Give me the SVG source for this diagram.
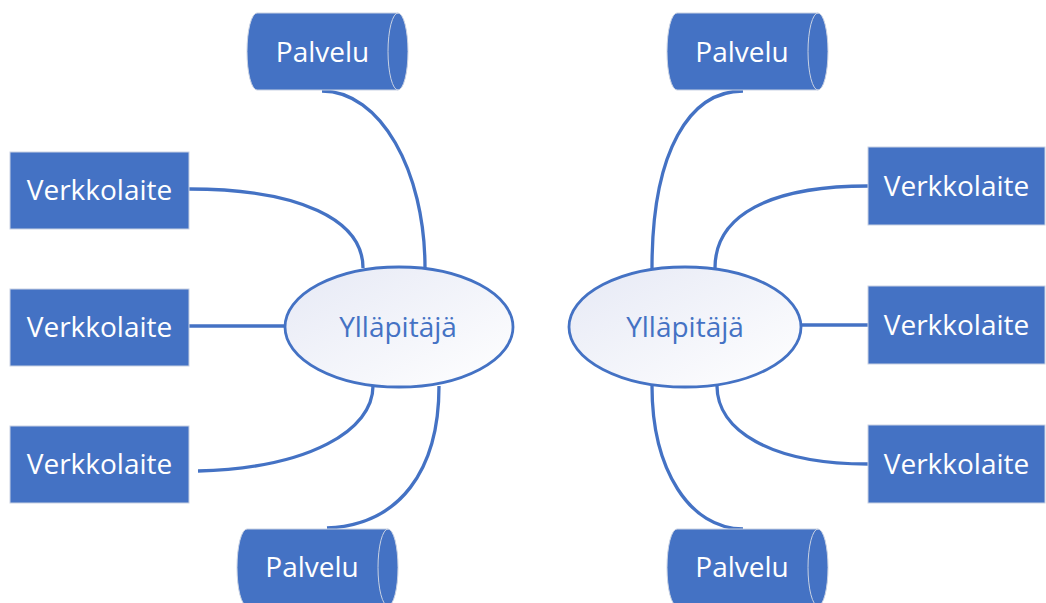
<svg xmlns="http://www.w3.org/2000/svg" width="1046" height="603" viewBox="0 0 1046 603">
<style>
.box{fill:#4472C4;stroke:#c9d2e3;stroke-width:1}
.cyl{fill:#4472C4;stroke:#c9d2e3;stroke-width:1}
.cap{fill:none;stroke:#c9d2e3;stroke-width:1}
.ell{fill:url(#g);stroke:#4472C4;stroke-width:2.8}
.lbl{font-family:"Open Sans","Liberation Sans",sans-serif;font-size:28px;fill:#ffffff;text-anchor:middle}
.elbl{font-family:"Open Sans","Liberation Sans",sans-serif;font-size:28px;fill:#4472C4;text-anchor:middle}
.conn path{fill:none;stroke:#4472C4;stroke-width:3.3}
</style>
<defs>
<linearGradient id="g" x1="0" y1="0" x2="1" y2="1">
<stop offset="0" stop-color="#e6e9f5"/>
<stop offset="1" stop-color="#ffffff"/>
</linearGradient>
</defs>
<rect width="1046" height="603" fill="#ffffff"/>
<g id="connectors" class="conn">
<path d="M322 91 C380 91 425 170 425 268"/>
<path d="M189 189 C300 189 363 220 363 268"/>
<path d="M189 326 L286 326"/>
<path d="M198 471 C310 468 373 430 373 386"/>
<path d="M327 528 C400 525 439 470 439 386"/>
<path d="M743 91 C690 91 652 150 652 268"/>
<path d="M868 186 C770 186 715 215 715 268"/>
<path d="M800 325 L868 325"/>
<path d="M868 464 C770 464 717 430 717 386"/>
<path d="M743 529 C690 529 652 470 652 386"/>
</g>
<g id="ell-left">
<ellipse class="ell" cx="399" cy="327" rx="114" ry="60"/>
<text class="elbl" x="398" y="337">Ylläpitäjä</text>
</g>
<g id="ell-right">
<ellipse class="ell" cx="685" cy="327" rx="116" ry="60"/>
<text class="elbl" x="685" y="337">Ylläpitäjä</text>
</g>
<g id="vl-left-1">
<rect class="box" x="10" y="152" width="179" height="77"/>
<text class="lbl" x="99.5" y="200">Verkkolaite</text>
</g>
<g id="vl-left-2">
<rect class="box" x="10" y="289" width="179" height="77"/>
<text class="lbl" x="99.5" y="337">Verkkolaite</text>
</g>
<g id="vl-left-3">
<rect class="box" x="10" y="426" width="179" height="77"/>
<text class="lbl" x="99.5" y="474">Verkkolaite</text>
</g>
<g id="vl-right-1">
<rect class="box" x="868" y="147" width="177" height="78"/>
<text class="lbl" x="956.5" y="196">Verkkolaite</text>
</g>
<g id="vl-right-2">
<rect class="box" x="868" y="286" width="177" height="78"/>
<text class="lbl" x="956.5" y="335">Verkkolaite</text>
</g>
<g id="vl-right-3">
<rect class="box" x="868" y="425" width="177" height="78"/>
<text class="lbl" x="956.5" y="474">Verkkolaite</text>
</g>
<g id="pal-top-left">
<path class="cyl" d="M257 13 L398 13 A10 38.5 0 0 1 398 90 L257 90 A10 38.5 0 0 1 257 13 Z"/>
<path class="cap" d="M398 13 A10 38.5 0 0 0 398 90"/>
<text class="lbl" x="322.5" y="62">Palvelu</text>
</g>
<g id="pal-top-right">
<path class="cyl" d="M677 13 L818 13 A10 38.5 0 0 1 818 90 L677 90 A10 38.5 0 0 1 677 13 Z"/>
<path class="cap" d="M818 13 A10 38.5 0 0 0 818 90"/>
<text class="lbl" x="742" y="62">Palvelu</text>
</g>
<g id="pal-bottom-left">
<path class="cyl" d="M247 529 L388 529 A10 38.5 0 0 1 388 606 L247 606 A10 38.5 0 0 1 247 529 Z"/>
<path class="cap" d="M388 529 A10 38.5 0 0 0 388 606"/>
<text class="lbl" x="312" y="577">Palvelu</text>
</g>
<g id="pal-bottom-right">
<path class="cyl" d="M677 529 L818 529 A10 38.5 0 0 1 818 606 L677 606 A10 38.5 0 0 1 677 529 Z"/>
<path class="cap" d="M818 529 A10 38.5 0 0 0 818 606"/>
<text class="lbl" x="742" y="577">Palvelu</text>
</g>
</svg>
